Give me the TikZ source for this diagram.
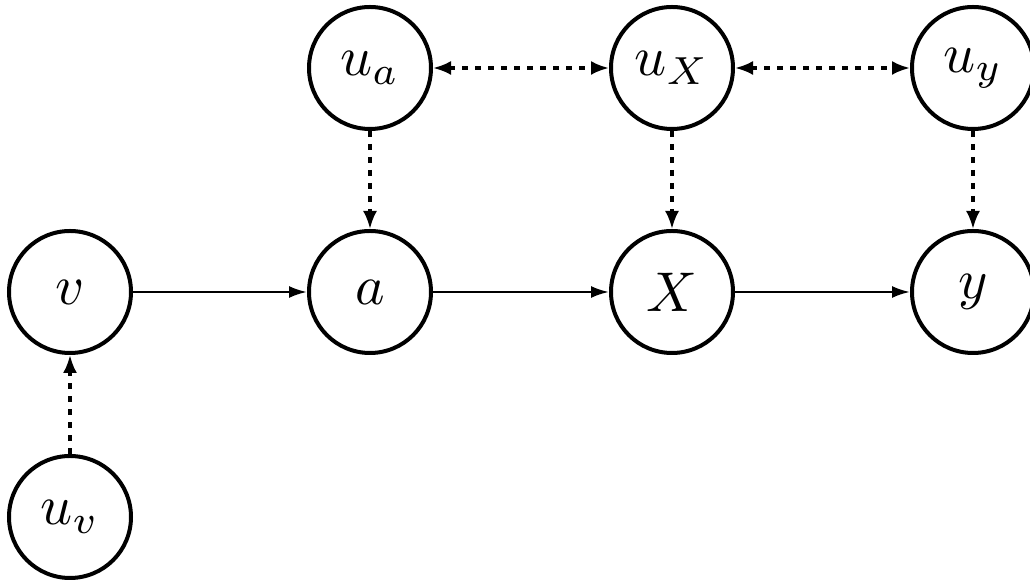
\documentclass[tikz,border=0pt]{standalone}
\usepackage{graphicx}
\usetikzlibrary{arrows.meta}
\newcommand{\lab}[1]{\scalebox{2.8}{$#1$}}
\begin{document}
\begin{tikzpicture}[x=0.5pt,y=-0.5pt,
  var/.style={circle,draw,line width=2pt,minimum size=61pt,inner sep=0pt},
  solidarr/.style={line width=1.2pt,-{Latex[length=9pt,width=6pt]}},
  dotarr/.style={line width=1.6pt,dash pattern=on 3pt off 3.5pt,-{Latex[length=9pt,width=7pt]}},
  dotdbl/.style={line width=1.6pt,dash pattern=on 3pt off 3.5pt,{Latex[length=9pt,width=7pt]}-{Latex[length=9pt,width=7pt]}}]
\useasboundingbox (0,0) rectangle (1030,581);
\node[var] (v)  at (70,292)  {\lab{v}};
\node[var] (a)  at (370,292) {\lab{a}};
\node[var] (X)  at (672,292) {\lab{X}};
\node[var] (y)  at (973,292) {\lab{y}};
\node[var] (ua) at (370,68)  {\lab{u_a}};
\node[var] (uX) at (672,68)  {\lab{u_X}};
\node[var] (uy) at (973,68)  {\lab{u_y}};
\node[var] (uv) at (70,517)  {\lab{u_v}};
\draw[solidarr] (v) -- (a);
\draw[solidarr] (a) -- (X);
\draw[solidarr] (X) -- (y);
\draw[dotarr] (ua) -- (a);
\draw[dotarr] (uX) -- (X);
\draw[dotarr] (uy) -- (y);
\draw[dotarr] (uv) -- (v);
\draw[dotdbl] (ua) -- (uX);
\draw[dotdbl] (uX) -- (uy);
\end{tikzpicture}
\end{document}
